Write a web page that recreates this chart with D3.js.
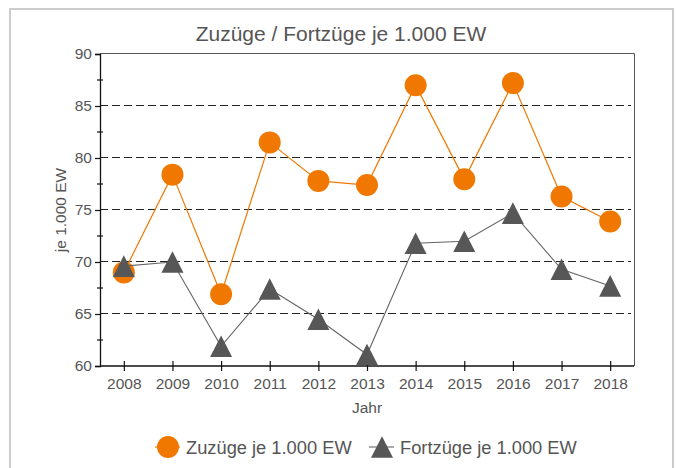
<!DOCTYPE html>
<html>
<head>
<meta charset="utf-8">
<script src="https://cdn.jsdelivr.net/npm/d3@7"></script>
<style>
  html, body { margin: 0; padding: 0; background: #fff; }
  svg { display: block; font-family: "Liberation Sans", Arial, sans-serif; }
</style>
</head>
<body>
<svg id="chart" width="677" height="468"></svg>
<script>
// ---- data ----
const years = ["2008","2009","2010","2011","2012","2013","2014","2015","2016","2017","2018"];
const zuzuege = [69.0, 78.4, 66.9, 81.5, 77.8, 77.4, 87.0, 77.95, 87.2, 76.3, 73.9];
const fortzuege = [69.6, 70.0, 61.9, 67.4, 64.5, 61.1, 71.8, 72.0, 74.7, 69.3, 67.7];
const yMajorTicks = [60, 65, 70, 75, 80, 85, 90];
const yMinorTicks = [62.5, 67.5, 72.5, 77.5, 82.5, 87.5];
const gridValues = [65, 70, 75, 80, 85];
const titleText = "Zuzüge / Fortzüge je 1.000 EW";
const xTitle = "Jahr";
const yTitle = "je 1.000 EW";
const seriesNames = ["Zuzüge je 1.000 EW", "Fortzüge je 1.000 EW"];

// ---- layout ----
const svg = d3.select("#chart");
const L = 100, R = 634, T = 54, B = 366;
const orange = "#F07800", gray = "#575757", textCol = "#555555";

const x = d3.scalePoint().domain(years).range([L, R]).padding(0.49);
const y = d3.scaleLinear().domain([60, 90]).range([B, T]);

svg.append("rect").attr("width", 677).attr("height", 468).attr("fill", "#fff");
// outer frame
svg.append("rect").attr("x", 10).attr("y", 9).attr("width", 663).attr("height", 480)
  .attr("fill", "none").attr("stroke", "#cccccc").attr("stroke-width", 2);

// title
svg.append("text").attr("x", 341).attr("y", 41).attr("text-anchor", "middle")
  .attr("font-size", "21px").attr("fill", textCol).text(titleText);

// grid lines
svg.append("g").selectAll("line").data(gridValues).join("line")
  .attr("x1", L).attr("x2", R - 3)
  .attr("y1", d => Math.round(y(d)) - 0.5).attr("y2", d => Math.round(y(d)) - 0.5)
  .attr("stroke", "#222").attr("stroke-width", 1).attr("stroke-dasharray", "8,4");

// top and right border
svg.append("path").attr("d", `M${L},${T - 0.5}H${R + 0.5}V${B}`).attr("fill", "none")
  .attr("stroke", "#555").attr("stroke-width", 1);

// y axis
const yAxis = d3.axisLeft(y).tickValues(yMajorTicks).tickSize(5).tickPadding(3);
const gy = svg.append("g").attr("transform", `translate(${L},0)`).call(yAxis);
gy.select(".domain").attr("stroke", "#111").attr("stroke-width", 1.3);
gy.selectAll(".tick line").attr("stroke", "#111").attr("stroke-width", 1.2);
gy.selectAll(".tick text").attr("font-size", "15.5px").attr("fill", textCol)
  .attr("font-family", "Liberation Sans, Arial, sans-serif");
// minor ticks
svg.append("g").selectAll("line").data(yMinorTicks).join("line")
  .attr("x1", L - 3).attr("x2", L + 3)
  .attr("y1", d => y(d)).attr("y2", d => y(d))
  .attr("stroke", "#111").attr("stroke-width", 1.2);

// x axis
const xAxis = d3.axisBottom(x).tickSizeInner(5).tickSizeOuter(0).tickPadding(7);
const gx = svg.append("g").attr("transform", `translate(0,${B})`).call(xAxis);
gx.select(".domain").attr("d", `M${L},0H${R}`).attr("stroke", "#111").attr("stroke-width", 1.3);
gx.selectAll(".tick line").attr("y1", -5).attr("y2", 5).attr("stroke", "#111").attr("stroke-width", 1.2);
gx.selectAll(".tick text").attr("font-size", "15.5px").attr("fill", textCol)
  .attr("font-family", "Liberation Sans, Arial, sans-serif");

// axis titles
svg.append("text").attr("x", (L + R) / 2).attr("y", 413).attr("text-anchor", "middle")
  .attr("font-size", "15.5px").attr("fill", textCol).text(xTitle);
svg.append("text").attr("transform", `translate(66,${(T + B) / 2}) rotate(-90)`)
  .attr("text-anchor", "middle").attr("font-size", "15.5px").attr("fill", textCol).text(yTitle);

// series
const line = d3.line().x((d, i) => x(years[i])).y(d => y(d));
const triPath = (cx, cy) => `M${cx},${cy - 10.8}L${cx + 11},${cy + 10.8}L${cx - 11},${cy + 10.8}Z`;

svg.append("path").datum(zuzuege).attr("d", line).attr("fill", "none")
  .attr("stroke", orange).attr("stroke-width", 1.2);
svg.append("g").selectAll("circle").data(zuzuege).join("circle")
  .attr("cx", (d, i) => x(years[i])).attr("cy", d => y(d)).attr("r", 11).attr("fill", orange);

svg.append("path").datum(fortzuege).attr("d", line).attr("fill", "none")
  .attr("stroke", "#666").attr("stroke-width", 1.1);
svg.append("g").selectAll("path").data(fortzuege).join("path")
  .attr("d", (d, i) => triPath(x(years[i]), y(d))).attr("fill", gray);

// legend
const lg = svg.append("g");
lg.append("line").attr("x1", 155).attr("x2", 180).attr("y1", 447).attr("y2", 447)
  .attr("stroke", orange).attr("stroke-width", 1.2);
lg.append("circle").attr("cx", 168).attr("cy", 447).attr("r", 11).attr("fill", orange);
lg.append("text").attr("x", 186).attr("y", 454).attr("font-size", "18.3px").attr("fill", textCol).text(seriesNames[0]);
lg.append("line").attr("x1", 369).attr("x2", 394).attr("y1", 447).attr("y2", 447)
  .attr("stroke", "#666").attr("stroke-width", 1.1);
lg.append("path").attr("d", triPath(382, 447)).attr("fill", gray);
lg.append("text").attr("x", 400).attr("y", 454).attr("font-size", "18.3px").attr("fill", textCol).text(seriesNames[1]);
</script>
</body>
</html>
